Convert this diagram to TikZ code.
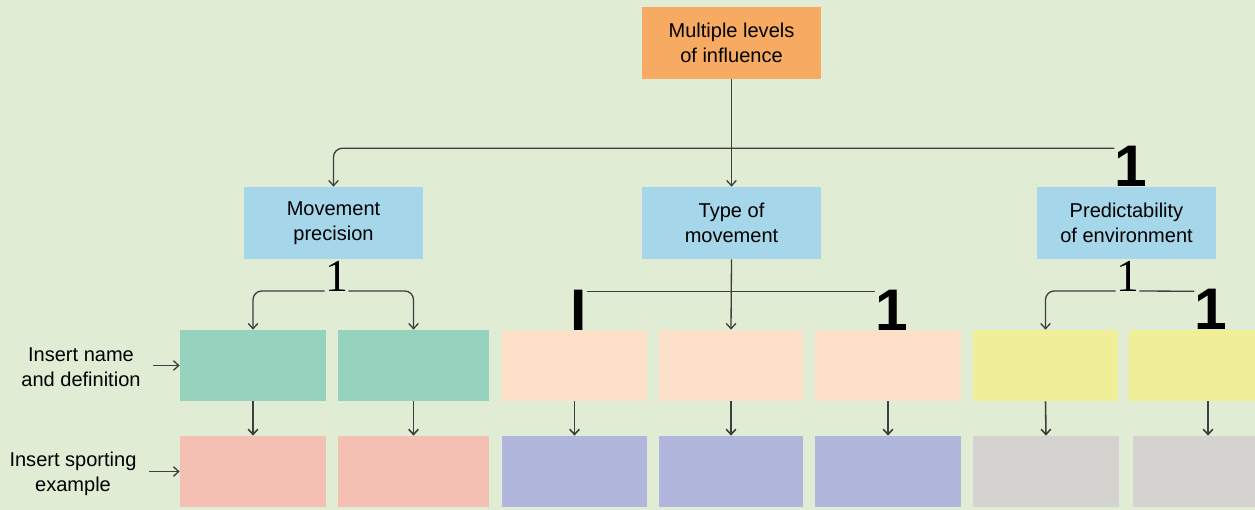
\documentclass[tikz,border=0pt]{standalone}
\usepackage{fontspec}
\setmainfont{Liberation Sans}
\newfontfamily\serifglyph{Liberation Serif}
\usetikzlibrary{arrows.meta}
\definecolor{bg}{HTML}{E0ECD4}
\definecolor{linkgray}{HTML}{3E3E3E}
\definecolor{orangebox}{HTML}{F6AA62}
\definecolor{bluebox}{HTML}{A6D6E9}
\definecolor{greenbox}{HTML}{96D3BE}
\definecolor{pinkbox}{HTML}{F5C0B4}
\definecolor{peachbox}{HTML}{FCE0C8}
\definecolor{purplebox}{HTML}{B0B6DC}
\definecolor{yellowbox}{HTML}{F0EE96}
\definecolor{graybox}{HTML}{D5D3CF}
\begin{document}
\begin{tikzpicture}[x=0.02cm,y=-0.02cm,
  txt/.style={font=\fontsize{11.4}{14.2}\selectfont, align=center},
  box/.style={rectangle, inner sep=0pt, txt},
  head/.style={box, minimum width=3.58cm, minimum height=1.44cm},
  cell/.style={box, minimum height=1.42cm},
  link/.style={draw=linkgray, line width=0.75pt},
  tip/.style={-{Straight Barb[length=3pt,width=5.5pt]}},
  bigone/.style={inner sep=0pt, anchor=base, font=\bfseries\fontsize{33.4}{40}\selectfont},
  smallone/.style={inner sep=0pt, anchor=base, font=\serifglyph\fontsize{26}{30}\selectfont},
  sidelabel/.style={txt, inner xsep=7pt, inner ysep=0pt}]
\fill[bg] (0,0) rectangle (1255,510);
\clip (0,0) rectangle (1255,510);

% top level and the three factors
\node[head, fill=orangebox] (top) at (731.5,43) {Multiple levels\\of influence};
\node[head, fill=bluebox] (mp) at (333.5,223) {Movement\\precision};
\node[head, fill=bluebox] (tm) at (731.5,223) {Type of\\movement};
\node[head, fill=bluebox] (pe) at (1126.5,223) {Predictability\\of environment};

% name and definition row
\node[cell, fill=greenbox,  minimum width=2.92cm] (a1) at (253,365.5) {};
\node[cell, fill=greenbox,  minimum width=3.02cm] (a2) at (413.5,365.5) {};
\node[cell, fill=peachbox,  minimum width=2.90cm] (a3) at (574.5,365.5) {};
\node[cell, fill=peachbox,  minimum width=2.88cm] (a4) at (731,365.5) {};
\node[cell, fill=peachbox,  minimum width=2.92cm] (a5) at (888,365.5) {};
\node[cell, fill=yellowbox, minimum width=2.90cm] (a6) at (1045.5,365.5) {};
\node[cell, fill=yellowbox, minimum width=3.16cm] (a7) at (1208,365.5) {};

% sporting example row
\node[cell, fill=pinkbox,   minimum width=2.92cm] (b1) at (253,471.5) {};
\node[cell, fill=pinkbox,   minimum width=3.02cm] (b2) at (413.5,471.5) {};
\node[cell, fill=purplebox, minimum width=2.90cm] (b3) at (574.5,471.5) {};
\node[cell, fill=purplebox, minimum width=2.88cm] (b4) at (731,471.5) {};
\node[cell, fill=purplebox, minimum width=2.92cm] (b5) at (888,471.5) {};
\node[cell, fill=graybox,   minimum width=2.92cm] (b6) at (1046,471.5) {};
\node[cell, fill=graybox,   minimum width=3.00cm] (b7) at (1208,471.5) {};

% row labels
\node[sidelabel] (l1) at (81,367.5) {Insert name\\and definition};
\node[sidelabel] (l2) at (73,474) {Insert sporting\\example};

% glyphs standing on the connectors
\node[bigone] (ga) at (1131,187) {1};
\node[smallone] (gm) at (336.5,291) {1};
\node[bigone] (gi) at (578.5,330) {I};
\node[bigone] (gt) at (892,330) {1};
\node[smallone] (gp) at (1127.5,291) {1};
\node[bigone] (gq) at (1211,329) {1};

% connectors from the top level
\draw[link, tip] (top.south) -- (tm.north);
\draw[link, tip, rounded corners=5pt] ([shift={(0,2)}]ga.north west) -| (mp.north);

% movement precision branch
\draw[link, tip, rounded corners=5pt] (gm.base west) -| (a1.north);
\draw[link, tip, rounded corners=5pt] (gm.base east) -| (a2.north);

% type of movement branch
\draw[link, tip] (tm.south) -- (a4.north);
\draw[link] ([shift={(0,2)}]gi.north east) -- ([shift={(0,2)}]gt.north west);

% predictability branch
\draw[link, tip, rounded corners=5pt] (gp.base west) -| (a6.north);
\draw[link] (gp.base east) -- ([shift={(0,3)}]gq.north west);

% between the two rows
\foreach \i in {1,...,7} {
  \draw[link, line width=0.9pt, tip] (a\i.south) -- (b\i.north);
}

% row label arrows
\draw[link, tip] (l1.east |- a1.west) -- (a1.west);
\draw[link, tip] (l2.east |- b1.west) -- (b1.west);
\end{tikzpicture}
\end{document}
